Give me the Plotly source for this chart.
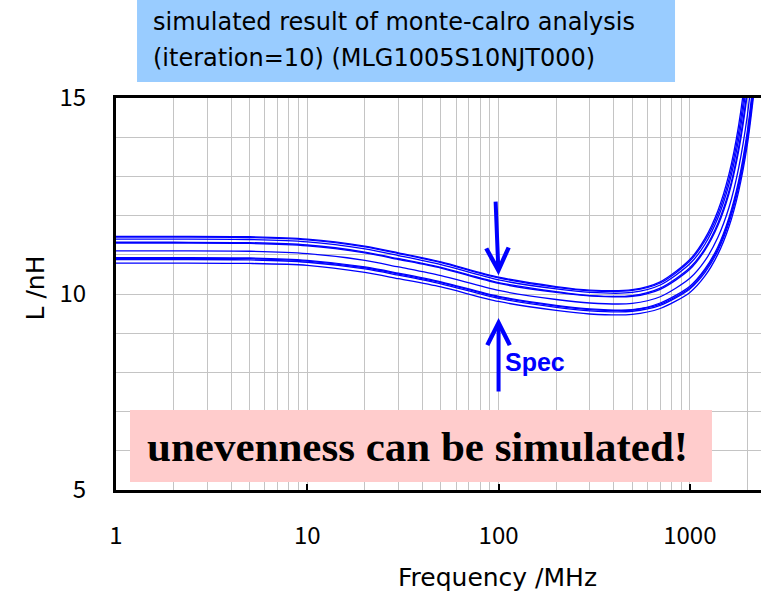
import math
import plotly.graph_objects as go

# ---------------- data ----------------
freq_mhz = [1, 2, 5, 10, 20, 30, 50, 100, 200, 300, 500, 700, 1000, 1200, 1400, 1600, 1800, 2000, 2200]

iter_01 = [11.47, 11.47, 11.46, 11.40, 11.22, 11.05, 10.82, 10.43, 10.19, 10.10, 10.11, 10.31, 10.88, 11.42, 12.12, 13.05, 14.31, 16.06, 18.55]
iter_02 = [11.45, 11.45, 11.44, 11.38, 11.20, 11.03, 10.80, 10.41, 10.17, 10.08, 10.09, 10.28, 10.84, 11.36, 12.03, 12.92, 14.13, 15.78, 18.12]
iter_03 = [11.40, 11.40, 11.39, 11.33, 11.15, 10.98, 10.75, 10.36, 10.13, 10.04, 10.04, 10.23, 10.77, 11.27, 11.93, 12.79, 13.95, 15.54, 17.76]
iter_04 = [11.32, 11.32, 11.31, 11.25, 11.07, 10.90, 10.68, 10.29, 10.06, 9.96, 9.96, 10.15, 10.67, 11.16, 11.80, 12.62, 13.75, 15.26, 17.38]
iter_05 = [11.30, 11.30, 11.29, 11.23, 11.05, 10.88, 10.66, 10.27, 10.04, 9.95, 9.94, 10.12, 10.63, 11.12, 11.74, 12.55, 13.65, 15.13, 17.18]
iter_06 = [11.10, 11.10, 11.09, 11.03, 10.86, 10.69, 10.47, 10.09, 9.86, 9.77, 9.76, 9.93, 10.40, 10.85, 11.44, 12.20, 13.22, 14.57, 16.43]
iter_07 = [10.93, 10.93, 10.92, 10.86, 10.69, 10.53, 10.31, 9.94, 9.71, 9.62, 9.60, 9.77, 10.20, 10.64, 11.20, 11.94, 12.89, 14.17, 15.90]
iter_08 = [10.91, 10.91, 10.90, 10.84, 10.67, 10.51, 10.29, 9.92, 9.69, 9.60, 9.59, 9.74, 10.16, 10.60, 11.15, 11.88, 12.81, 14.06, 15.75]
iter_09 = [10.88, 10.88, 10.87, 10.81, 10.64, 10.48, 10.26, 9.89, 9.66, 9.57, 9.56, 9.71, 10.13, 10.55, 11.10, 11.81, 12.73, 13.94, 15.58]
iter_10 = [10.79, 10.79, 10.78, 10.73, 10.55, 10.39, 10.18, 9.81, 9.58, 9.49, 9.48, 9.63, 10.04, 10.46, 11.01, 11.71, 12.62, 13.82, 15.45]

iterations = [iter_01, iter_02, iter_03, iter_04, iter_05,
              iter_06, iter_07, iter_08, iter_09, iter_10]

y_tick_vals = [5, 10, 15]
x_tick_vals = [1, 10, 100, 1000]
x_tick_text = ["1", "10", "100", "1000"]

title_lines = ["simulated result of monte-calro analysis", "(iteration=10) (MLG1005S10NJT000)"]
x_title = "Frequency /MHz"
y_title = "L /nH"
banner_text = "unevenness can be simulated!"
spec_text = "Spec"
spec_freq = 100      # MHz, where spec arrows point
spec_upper = 10.48   # nH
spec_lower = 9.39    # nH
spec_label_freq = 155
spec_label_L = 8.27

# ---------------- figure ----------------
fig = go.Figure()
for vals in iterations:
    fig.add_trace(go.Scatter(
        x=freq_mhz, y=vals, mode="lines",
        line=dict(color="#0000ff", width=1.3, shape="spline", smoothing=0.8),
        showlegend=False, hoverinfo="skip"))

grid_col = "#c4c4c4"
sans = "Noto Sans CJK JP, DejaVu Sans, sans-serif"
wide = "DejaVu Sans, sans-serif"

fig.update_layout(
    width=761, height=591,
    margin=dict(l=116, r=0, t=98, b=101),
    paper_bgcolor="white", plot_bgcolor="white",
    showlegend=False,
    xaxis=dict(
        type="log", range=[0, 3.372],
        tickvals=x_tick_vals, ticktext=x_tick_text,
        showgrid=True, gridcolor=grid_col, gridwidth=1,
        minor=dict(dtick="D1", showgrid=True, gridcolor=grid_col, gridwidth=1, ticks=""),
        ticks="inside", ticklen=6, tickwidth=2, tickcolor="black",
        ticklabelstandoff=22,
        showline=True, linecolor="black", linewidth=3, mirror=True,
        tickfont=dict(family=sans, size=24, color="black"),
        zeroline=False,
    ),
    yaxis=dict(
        range=[5, 15], tickvals=y_tick_vals,
        showgrid=True, gridcolor=grid_col, gridwidth=1,
        minor=dict(dtick=1, showgrid=True, gridcolor=grid_col, gridwidth=1, ticks=""),
        ticks="", ticklabelstandoff=22,
        showline=True, linecolor="black", linewidth=3, mirror=False,
        tickfont=dict(family=sans, size=24, color="black"),
        zeroline=False,
    ),
)

# axis titles (placed like the original, which is off-centre because the chart is cropped)
fig.add_annotation(xref="paper", yref="paper", x=0.591, y=-0.222,
                   xanchor="center", yanchor="middle", showarrow=False,
                   text=x_title, font=dict(family=wide, size=25, color="black"))
fig.add_annotation(xref="paper", yref="paper", x=-0.125, y=0.515,
                   xanchor="center", yanchor="middle", showarrow=False, textangle=-90,
                   text=y_title, font=dict(family=wide, size=25, color="black"))

# title banner (light blue)
fig.add_shape(type="rect", xref="paper", yref="paper",
              x0=0.0326, x1=0.8667, y0=1.0408, y1=1.25,
              fillcolor="#99ccff", line=dict(width=0), layer="above")
fig.add_annotation(xref="paper", yref="paper", x=0.055, y=1.194,
                   xanchor="left", yanchor="middle", align="left", showarrow=False,
                   text=title_lines[0], font=dict(family=wide, size=24, color="black"))
fig.add_annotation(xref="paper", yref="paper", x=0.055, y=1.102,
                   xanchor="left", yanchor="middle", align="left", showarrow=False,
                   text=title_lines[1], font=dict(family=wide, size=24, color="black"))

# pink banner
fig.add_shape(type="rect", xref="paper", yref="paper",
              x0=0.0217, x1=0.924, y0=0.0204, y1=0.204,
              fillcolor="#ffcccc", line=dict(width=0), layer="above")
fig.add_annotation(xref="paper", yref="paper", x=0.468, y=0.112,
                   xanchor="center", yanchor="middle", showarrow=False,
                   text="<b>" + banner_text + "</b>",
                   font=dict(family="Liberation Serif, Times New Roman, serif", size=43, color="black"))

# spec arrows
fig.add_annotation(x=math.log10(spec_freq), y=spec_upper, ax=-3, ay=-75,
                   showarrow=True, arrowhead=5, arrowsize=1.1, arrowwidth=4,
                   arrowcolor="#0000ff", text="")
fig.add_annotation(x=math.log10(spec_freq), y=spec_lower, ax=0, ay=75,
                   showarrow=True, arrowhead=5, arrowsize=1.1, arrowwidth=4,
                   arrowcolor="#0000ff", text="")
fig.add_annotation(x=math.log10(spec_label_freq), y=spec_label_L, showarrow=False,
                   text="<b>" + spec_text + "</b>",
                   font=dict(family="Liberation Sans, Arial, sans-serif", size=25, color="#0000ff"))

fig.write_html("out.html")
